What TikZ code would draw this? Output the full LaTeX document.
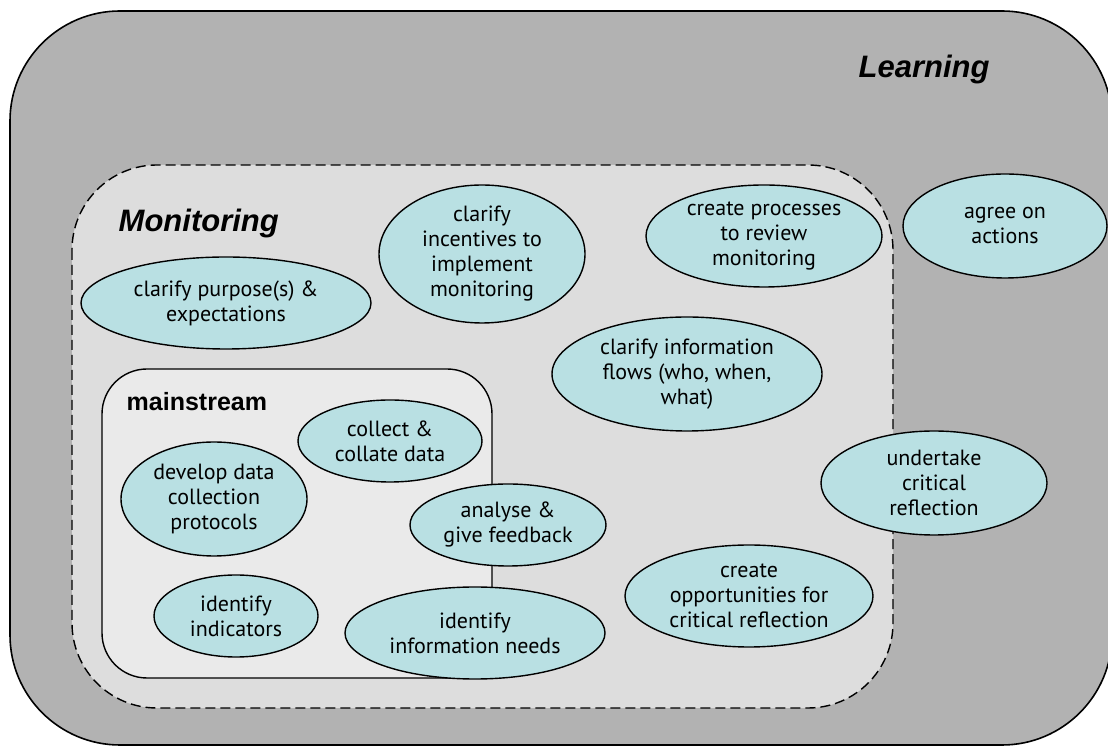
\documentclass[tikz,border=0pt]{standalone}
\usepackage{fontspec}
\setmainfont{PT Sans}
\newfontfamily\labelfont{Liberation Sans}
\usepackage{tikz}
\usetikzlibrary{shapes.geometric}

\definecolor{learngray}{RGB}{178,178,178}
\definecolor{monitorgray}{RGB}{221,221,221}
\definecolor{maingray}{RGB}{234,234,234}
\definecolor{ellfill}{RGB}{185,224,227}

\begin{document}
\begin{tikzpicture}[x=0.5pt, y=-0.5pt, every node/.style={ellipse, draw=black, line width=0.7pt, fill=ellfill, inner sep=0pt, align=center, font=\fontsize{11}{12.5}\selectfont}]
			\useasboundingbox (0,0) rectangle (1108,747);
			
			\draw[fill=learngray, line width=0.8pt, rounded corners=55pt] (10,11) rectangle (1112,745);
			\draw[fill=monitorgray, line width=0.7pt, dash pattern=on 5pt off 2.5pt, rounded corners=42.5pt] (72,165) rectangle (893,708);
			\draw[fill=maingray, line width=0.7pt, rounded corners=22.5pt] (102,369) rectangle (492,678);
			
			\node[rectangle, draw=none, fill=none, anchor=base west, font=\labelfont\fontsize{15.5}{18}\selectfont\bfseries\itshape] (text1) at (858,78){Learning};
			\node[rectangle, draw=none, fill=none, anchor=base west, font=\labelfont\fontsize{15.5}{18}\selectfont\bfseries\itshape] (text2) at (118,232){Monitoring};
			\node[rectangle, draw=none, fill=none, anchor=base west, font=\labelfont\fontsize{12.5}{15}\selectfont\bfseries] (text3) at (126,411){mainstream};
			
			\node[minimum width=145pt, minimum height=46pt] (e1) at (226,303){clarify purpose(s) \&\\expectations};
			\node[minimum width=103pt, minimum height=69pt] (e2) at (482,254){clarify\\incentives to\\implement\\monitoring};
			\node[minimum width=118pt, minimum height=51pt] (e3) at (764,236){create processes\\to review\\monitoring};
			\node[minimum width=102pt, minimum height=52pt] (e4) at (1005,226){agree on\\actions};
			\node[minimum width=135pt, minimum height=57pt] (e5) at (687,374){clarify information\\flows (who, when,\\what)};
			
			\node[minimum width=92pt, minimum height=41pt] (e6) at (390,441){collect \&\\collate data};
			\node[minimum width=93pt, minimum height=57pt] (e7) at (214,499){develop data\\collection\\protocols};
			\node[minimum width=98pt, minimum height=41pt] (e8) at (508,525){analyse \&\\give feedback};
			\node[minimum width=82pt, minimum height=41pt] (e9) at (236,616){identify\\indicators};
			\node[minimum width=130pt, minimum height=46pt] (e10) at (475,633){identify\\information needs};
			
			\node[minimum width=113pt, minimum height=52pt] (e11) at (934,483){undertake\\critical\\reflection};
			\node[minimum width=124pt, minimum height=51pt] (e12) at (749,596){create\\opportunities for\\critical reflection};
\end{tikzpicture}
\end{document}
